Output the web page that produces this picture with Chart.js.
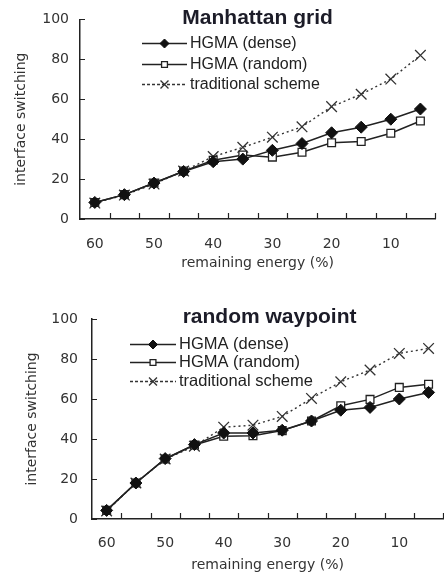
<!DOCTYPE html>
<html lang="en">
<head>
<meta charset="UTF-8">
<title>Interface switching vs remaining energy</title>
<script src="https://cdn.jsdelivr.net/npm/chart.js"></script>
<style>
  html, body { margin: 0; width: 444px; height: 577px; overflow: hidden; background: #fff; }
  .box { position: absolute; left: 0; }
  #topBox { top: 0; width: 444px; height: 282px; }
  #bottomBox { top: 290px; width: 452px; height: 287px; }
</style>
</head>
<body>

<div class="box" id="topBox"><canvas id="manhattanChart" width="444" height="282"></canvas></div>
<div class="box" id="bottomBox"><canvas id="waypointChart" width="452" height="287"></canvas></div>

<script>
// x categories: remaining energy (%), labels only on every 10
const energy = [60, 55, 50, 45, 40, 35, 30, 25, 20, 15, 10, 5];
const energyTicks = ['60', '', '50', '', '40', '', '30', '', '20', '', '10', ''];
const yTicks = [0, 20, 40, 60, 80, 100];
const seriesNames = ['HGMA (dense)', 'HGMA (random)', 'traditional scheme'];

// Manhattan grid
const manhattanDense = [8.3, 12.2, 18, 23.8, 28.7, 30, 34.4, 37.8, 43.2, 46, 50, 55.1];
const manhattanRandom = [8.3, 12.2, 18, 24, 29.4, 32.1, 31, 33.4, 38.2, 38.8, 43, 49.1];
const manhattanTraditional = [8, 12, 17.5, 24, 31.3, 35.9, 41, 46.2, 56.3, 62.5, 70.1, 82];

// random waypoint
const waypointDense = [4.3, 18, 30.2, 37.2, 43, 43, 44.4, 49, 54.4, 55.8, 60, 63.3];
const waypointRandom = [4.3, 18, 30, 37, 41.4, 41.6, 44.2, 49, 56.6, 59.8, 65.8, 67.4];
const waypointTraditional = [4, 18, 30, 36.4, 45.9, 46.9, 51.3, 60.3, 68.6, 74.5, 82.8, 85.3];

const ink = '#222';

// inward tick marks, title and in-plot legend
const decor = {
  id: 'decor',
  afterDraw(chart, args, o) {
    const { ctx, chartArea: a, scales: { x, y } } = chart;
    ctx.save();
    ctx.strokeStyle = ink;
    ctx.lineWidth = 1.2;
    ctx.beginPath();
    for (let i = 1; i <= energy.length; i++) {
      const px = Math.round(x.getPixelForValue(i - 0.5)) + 0.5;
      ctx.moveTo(px, a.bottom);
      ctx.lineTo(px, a.bottom - 6);
    }
    yTicks.forEach(v => {
      const py = Math.round(y.getPixelForValue(v)) + 0.5;
      ctx.moveTo(a.left, py);
      ctx.lineTo(a.left + 5, py);
    });
    ctx.stroke();

    // title
    ctx.font = 'bold 21px "Liberation Sans", Arial, sans-serif';
    ctx.fillStyle = '#1c1c28';
    ctx.textAlign = 'center';
    ctx.textBaseline = 'middle';
    ctx.fillText(o.title, (a.left + a.right) / 2 + o.titleDx, a.top + o.titleDy);

    // legend
    ctx.font = o.legendFont + 'px "Liberation Sans", Arial, sans-serif';
    ctx.textAlign = 'left';
    chart.data.datasets.forEach((ds, i) => {
      const ly = Math.round(a.top + o.ly + i * o.gap) + 0.5;
      const x0 = a.left + o.lx0, x1 = a.left + o.lx1;
      ctx.strokeStyle = ds.borderColor;
      ctx.lineWidth = ds.borderWidth;
      ctx.setLineDash(ds.legendDash || []);
      ctx.beginPath();
      ctx.moveTo(x0, ly);
      ctx.lineTo(x1, ly);
      ctx.stroke();
      ctx.setLineDash([]);
      ctx.fillStyle = ds.pointBackgroundColor;
      ctx.strokeStyle = ds.pointBorderColor;
      ctx.lineWidth = ds.pointBorderWidth;
      Chart.helpers.drawPoint(ctx, {
        pointStyle: ds.pointStyle, rotation: 0,
        radius: ds.pointRadius * 0.75, borderWidth: ds.pointBorderWidth
      }, (x0 + x1) / 2, ly);
      ctx.fillStyle = ink;
      ctx.fillText(ds.label, a.left + o.tx, ly);
    });
    ctx.restore();
  }
};

function makeDatasets(dense, random, trad) {
  return [
    {
      label: seriesNames[0], data: dense,
      borderColor: ink, borderWidth: 1.5,
      pointStyle: 'rectRot', pointRadius: 6,
      pointBackgroundColor: '#111', pointBorderColor: '#111', pointBorderWidth: 1
    },
    {
      label: seriesNames[1], data: random,
      borderColor: ink, borderWidth: 1.5,
      pointStyle: 'rect', pointRadius: 5.5,
      pointBackgroundColor: '#fff', pointBorderColor: ink, pointBorderWidth: 1.3
    },
    {
      label: seriesNames[2], data: trad,
      borderColor: '#333', borderWidth: 1.4, borderDash: [2, 3], legendDash: [3, 2],
      pointStyle: 'crossRot', pointRadius: 7.5,
      pointBackgroundColor: '#333', pointBorderColor: '#333', pointBorderWidth: 1.3
    }
  ];
}

function makeChart(id, datasets, cfg) {
  const tickFont = { family: '"DejaVu Sans", sans-serif', size: 14 };
  return new Chart(document.getElementById(id), {
    type: 'line',
    data: { labels: energy, datasets: datasets },
    options: {
      responsive: false,
      animation: false,
      layout: { padding: { top: cfg.top, left: 0, right: 0, bottom: 0 } },
      elements: { line: { tension: 0 } },
      plugins: {
        legend: { display: false },
        tooltip: { enabled: false },
        decor: cfg.decor
      },
      scales: {
        x: {
          type: 'category',
          offset: true,
          grid: { display: true, drawOnChartArea: false, drawTicks: false },
          border: { display: true, color: ink, width: 1.5 },
          ticks: {
            autoSkip: false, maxRotation: 0, padding: cfg.xPad,
            color: '#333', font: tickFont,
            callback: (v, i) => energyTicks[i]
          },
          title: {
            display: true, text: 'remaining energy (%)', color: '#333', font: tickFont,
            padding: { top: 0, bottom: cfg.xTitlePad }
          },
          afterFit: s => { s.height = cfg.xHeight; }
        },
        y: {
          min: 0, max: 100,
          grid: { display: true, drawOnChartArea: false, drawTicks: false },
          border: { display: true, color: ink, width: 1.5 },
          ticks: { stepSize: 20, padding: cfg.yPad, color: '#333', font: tickFont },
          title: {
            display: true, text: 'interface switching', color: '#333', font: tickFont,
            padding: { top: cfg.yTitlePad, bottom: 0 }
          },
          afterFit: s => { s.width = cfg.yWidth; }
        }
      }
    },
    plugins: [decor]
  });
}

makeChart('manhattanChart',
  makeDatasets(manhattanDense, manhattanRandom, manhattanTraditional),
  {
    top: 15, xHeight: 63, yWidth: 80, xPad: 17, yPad: 11, xTitlePad: 10, yTitlePad: 13,
    decor: { title: 'Manhattan grid', titleDx: 0, titleDy: -1,
             lx0: 62, lx1: 107, tx: 110, ly: 24, gap: 20.5, legendFont: 16 }
  });

makeChart('waypointChart',
  makeDatasets(waypointDense, waypointRandom, waypointTraditional),
  {
    top: 29, xHeight: 58, yWidth: 92, xPad: 16, yPad: 14, xTitlePad: 3, yTitlePad: 24,
    decor: { title: 'random waypoint', titleDx: 2, titleDy: -2,
             lx0: 38, lx1: 84, tx: 87, ly: 25, gap: 18.3, legendFont: 16.5 }
  });
</script>

</body>
</html>
